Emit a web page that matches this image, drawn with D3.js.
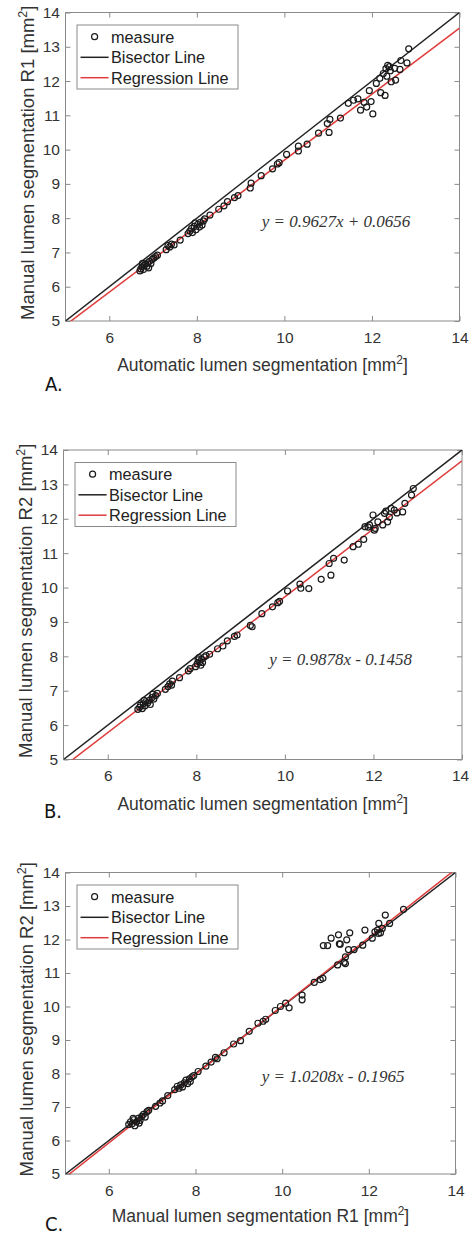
<!DOCTYPE html>
<html>
<head>
  <meta charset="utf-8">
  <title>Lumen segmentation agreement</title>
  <style>
    body { margin: 0; background: #fff; }
    svg { display: block; }
    .tick text { font-family: "Liberation Sans", Arial, sans-serif; font-size: 15.5px; fill: #333; }
    .tick line { stroke: #8a8a8a; }
    .axis-label { font-family: "Liberation Sans", Arial, sans-serif; fill: #333; }
    .legend text { font-family: "Liberation Sans", Arial, sans-serif; font-size: 16.3px; fill: #222; }
    .eq { font-family: "Liberation Serif", "Times New Roman", serif; font-style: italic; font-size: 17px; fill: #333; }
    .tag { font-family: "Liberation Sans Narrow", "DejaVu Sans Condensed", sans-serif; font-size: 20px; fill: #111; }
  </style>
  <script src="https://d3js.org/d3.v7.min.js"></script>
</head>
<body>
<div id="chart"></div>
<script>
  const xTicks = [6, 8, 10, 12, 14];
  const yTicks = [5, 6, 7, 8, 9, 10, 11, 12, 13, 14];
  const legendLabels = ['measure', 'Bisector Line', 'Regression Line'];

  // A: automatic vs manual R1, [x, y] in mm2
  const pointsA = [
    [6.70, 6.46], [6.72, 6.52], [6.75, 6.58], [6.78, 6.50], [6.80, 6.62], [6.83, 6.66],
    [6.86, 6.60], [6.88, 6.70], [6.92, 6.74], [6.95, 6.68], [6.98, 6.80], [7.02, 6.84],
    [7.06, 6.88], [7.10, 6.92], [6.76, 6.68], [6.90, 6.55],
    [7.30, 7.08], [7.34, 7.20], [7.38, 7.16], [7.42, 7.24], [7.48, 7.22], [7.62, 7.36],
    [7.80, 7.55], [7.84, 7.62], [7.88, 7.70], [7.90, 7.58], [7.94, 7.76], [7.98, 7.66],
    [8.02, 7.82], [8.06, 7.74], [8.08, 7.88], [8.12, 7.80], [8.15, 7.92], [8.18, 7.98],
    [7.96, 7.86], [8.30, 8.09], [8.50, 8.26], [8.62, 8.36], [8.70, 8.48], [8.86, 8.60],
    [8.94, 8.66], [9.22, 8.88], [9.24, 9.02], [9.47, 9.24], [9.73, 9.44], [9.84, 9.58],
    [9.88, 9.62], [10.05, 9.86], [10.32, 9.96], [10.32, 10.10], [10.52, 10.16], [10.78, 10.48],
    [10.98, 10.76], [11.02, 10.50], [11.04, 10.88], [11.28, 10.92],
    [11.46, 11.35], [11.58, 11.44], [11.68, 11.48], [11.74, 11.15], [11.82, 11.38], [11.88, 11.24],
    [11.94, 11.72], [11.98, 11.40], [12.02, 11.04], [12.10, 11.93], [12.18, 12.08], [12.20, 11.66],
    [12.26, 12.22], [12.30, 11.58], [12.32, 12.36], [12.36, 12.46], [12.34, 12.14], [12.40, 12.42],
    [12.44, 11.98], [12.42, 12.30], [12.52, 12.37], [12.54, 12.03], [12.64, 12.34], [12.66, 12.60],
    [12.80, 12.53], [12.84, 12.94]
  ];
  const fitA = [0.9627, 0.0656];
  const eqA = 'y = 0.9627x + 0.0656';

  // B: automatic vs manual R2
  const pointsB = [
    [6.68, 6.46], [6.72, 6.52], [6.74, 6.58], [6.78, 6.48], [6.80, 6.62], [6.84, 6.56],
    [6.86, 6.68], [6.90, 6.64], [6.94, 6.72], [6.96, 6.60], [7.00, 6.80], [7.04, 6.76],
    [7.08, 6.86], [7.12, 6.92], [6.82, 6.72], [7.02, 6.90],
    [7.30, 7.04], [7.36, 7.12], [7.40, 7.20], [7.44, 7.16], [7.46, 7.28], [7.62, 7.38],
    [7.82, 7.58], [7.86, 7.64], [7.98, 7.70], [8.02, 7.78], [8.04, 7.90], [8.06, 7.96],
    [8.08, 7.84], [8.10, 7.74], [8.12, 7.92], [8.14, 7.82], [8.18, 7.98], [8.22, 8.02],
    [8.30, 8.06], [8.48, 8.22], [8.60, 8.30], [8.70, 8.45], [8.86, 8.58], [8.92, 8.62],
    [9.22, 8.90], [9.26, 8.86], [9.48, 9.24], [9.72, 9.44], [9.84, 9.56], [9.88, 9.60],
    [10.06, 9.90], [10.34, 10.10], [10.36, 9.98], [10.54, 9.97], [10.82, 10.24], [11.00, 10.70],
    [11.04, 10.36], [11.10, 10.85], [11.34, 10.80],
    [11.54, 11.19], [11.66, 11.26], [11.78, 11.40], [11.81, 11.77], [11.91, 11.82], [11.99, 12.11],
    [12.02, 11.67], [12.10, 11.91], [12.21, 11.82], [12.25, 12.16], [12.32, 11.91], [12.36, 12.05],
    [12.40, 12.30], [12.47, 12.25], [12.53, 12.17], [12.66, 12.20], [12.71, 12.45], [12.86, 12.69],
    [12.90, 12.88], [11.88, 11.76], [12.04, 11.72], [12.28, 12.22]
  ];
  const fitB = [0.9878, -0.1458];
  const eqB = 'y = 0.9878x - 0.1458';

  // C: manual R1 vs manual R2
  const pointsC = [
    [6.46, 6.48], [6.50, 6.56], [6.54, 6.50], [6.58, 6.62], [6.60, 6.44], [6.64, 6.56],
    [6.68, 6.66], [6.72, 6.60], [6.76, 6.72], [6.80, 6.78], [6.84, 6.70], [6.88, 6.86],
    [6.92, 6.90], [6.56, 6.66], [6.70, 6.52],
    [7.08, 7.02], [7.18, 7.12], [7.24, 7.18], [7.36, 7.34], [7.52, 7.52], [7.58, 7.62],
    [7.62, 7.56], [7.66, 7.66], [7.70, 7.60], [7.74, 7.72], [7.78, 7.80], [7.82, 7.70],
    [7.86, 7.84], [7.88, 7.76], [7.92, 7.90], [7.96, 7.94], [8.06, 8.06], [8.24, 8.22],
    [8.36, 8.34], [8.46, 8.48], [8.50, 8.44], [8.66, 8.62], [8.88, 8.88], [9.04, 8.98],
    [9.24, 9.26], [9.44, 9.50], [9.56, 9.56], [9.62, 9.62], [9.84, 9.88], [9.96, 10.00],
    [10.08, 10.10], [10.16, 9.96], [10.46, 10.20], [10.46, 10.34], [10.74, 10.72], [10.88, 10.80],
    [10.94, 10.84],
    [10.95, 11.82], [11.05, 11.82], [11.13, 12.04], [11.30, 12.14], [11.32, 11.87], [11.34, 11.86],
    [11.28, 11.24], [11.43, 11.32], [11.46, 11.48], [11.49, 11.99], [11.56, 12.20], [11.53, 11.70],
    [11.66, 11.70], [11.86, 11.83], [11.91, 12.28], [12.08, 12.04], [12.14, 12.23], [12.20, 12.28],
    [12.23, 12.48], [12.27, 12.20], [12.31, 12.33], [12.38, 12.73], [12.48, 12.48], [12.80, 12.90],
    [11.46, 11.28], [12.22, 12.18]
  ];
  const fitC = [1.0208, -0.1965];
  const eqC = 'y = 1.0208x - 0.1965';

  const panels = [
    { tag: 'A.', box: [65.5, 12.5, 459.5, 321], points: pointsA, fit: fitA, eq: eqA, eqAt: [261.7, 226.5],
      xLabel: 'Automatic lumen segmentation ', yLabel: 'Manual lumen segmentation R1 ',
      xLabelY: 371, yLabelX: 34, tagAt: [45, 391] },
    { tag: 'B.', box: [63.5, 450, 462, 759.5], points: pointsB, fit: fitB, eq: eqB, eqAt: [269.3, 665],
      xLabel: 'Automatic lumen segmentation ', yLabel: 'Manual lumen segmentation R2 ',
      xLabelY: 810, yLabelX: 32, tagAt: [44, 818] },
    { tag: 'C.', box: [65.5, 872.5, 455.5, 1174], points: pointsC, fit: fitC, eq: eqC, eqAt: [261.7, 1081.5],
      xLabel: 'Manual lumen segmentation R1 ', yLabel: 'Manual lumen segmentation R2 ',
      xLabelY: 1221.5, yLabelX: 33, tagAt: [45, 1231] }
  ];

  const svg = d3.select('#chart').append('svg')
    .attr('width', 469)
    .attr('height', 1239);

  // text with a superscript 2 in the unit
  function unitText(sel, text) {
    sel.append('tspan').text(text + '[mm');
    sel.append('tspan').attr('dy', -7).attr('font-size', '0.68em').text('2');
    sel.append('tspan').attr('dy', 7).text(']');
  }

  panels.forEach((p, i) => {
    const [left, top, right, bottom] = p.box;
    const x = d3.scaleLinear().domain([5, 14]).range([left, right]);
    const y = d3.scaleLinear().domain([5, 14]).range([bottom, top]);
    const g = svg.append('g');

    g.append('clipPath').attr('id', 'clip' + i)
      .append('rect')
        .attr('x', left).attr('y', top)
        .attr('width', right - left).attr('height', bottom - top);

    g.append('rect')
      .attr('x', left).attr('y', top)
      .attr('width', right - left).attr('height', bottom - top)
      .attr('fill', '#fff')
      .attr('stroke', '#8a8a8a')
      .attr('stroke-width', 1);

    // ticks point inwards on all four sides
    const xAxis = g.append('g')
      .attr('transform', `translate(0,${bottom})`)
      .call(d3.axisBottom(x).tickValues(xTicks).tickSize(-5).tickPadding(10.5))
      .call(a => a.select('.domain').remove());
    // keep the last label inside the page
    xAxis.selectAll('.tick text')
      .attr('dx', d => (d === 14 && x(d) + 9 > 469) ? 469 - 9 - x(d) : 0);
    g.append('g')
      .attr('transform', `translate(0,${top})`)
      .call(d3.axisTop(x).tickValues(xTicks).tickSize(-5).tickFormat(''))
      .call(a => a.select('.domain').remove());
    g.append('g')
      .attr('transform', `translate(${left},0)`)
      .call(d3.axisLeft(y).tickValues(yTicks).tickSize(-5).tickPadding(5.5))
      .call(a => a.select('.domain').remove());
    g.append('g')
      .attr('transform', `translate(${right},0)`)
      .call(d3.axisRight(y).tickValues(yTicks).tickSize(-5).tickFormat(''))
      .call(a => a.select('.domain').remove());
    g.selectAll('.tick text').attr('font-size', null).attr('font-family', null);

    const line = d3.line().x(d => x(d[0])).y(d => y(d[1]));
    const ends = [5, 14];
    const plot = g.append('g').attr('clip-path', `url(#clip${i})`);

    plot.append('path')
      .attr('d', line(ends.map(v => [v, v])))
      .attr('fill', 'none').attr('stroke', '#222').attr('stroke-width', 1.5);
    plot.append('path')
      .attr('d', line(ends.map(v => [v, p.fit[0] * v + p.fit[1]])))
      .attr('fill', 'none').attr('stroke', '#e03c3c').attr('stroke-width', 1.5);

    plot.selectAll('circle')
      .data(p.points)
      .join('circle')
        .attr('cx', d => x(d[0]))
        .attr('cy', d => y(d[1]))
        .attr('r', 3)
        .attr('fill', 'none')
        .attr('stroke', '#1a1a1a')
        .attr('stroke-width', 1.2);

    g.append('text').attr('class', 'eq')
      .attr('x', p.eqAt[0]).attr('y', p.eqAt[1])
      .text(p.eq);

    // legend
    const lg = g.append('g').attr('class', 'legend')
      .attr('transform', `translate(${left + 11.5},${top + 12.5})`);
    lg.append('rect')
      .attr('width', 161).attr('height', 64)
      .attr('fill', '#fff').attr('stroke', '#8a8a8a');
    const rowY = [11.7, 32.3, 52.7];
    lg.append('circle')
      .attr('cx', 17.6).attr('cy', rowY[0]).attr('r', 3)
      .attr('fill', 'none').attr('stroke', '#1a1a1a').attr('stroke-width', 1.2);
    lg.append('line')
      .attr('x1', 3.5).attr('x2', 31.6).attr('y1', rowY[1]).attr('y2', rowY[1])
      .attr('stroke', '#222').attr('stroke-width', 1.5);
    lg.append('line')
      .attr('x1', 3.5).attr('x2', 31.6).attr('y1', rowY[2]).attr('y2', rowY[2])
      .attr('stroke', '#e03c3c').attr('stroke-width', 1.5);
    lg.selectAll('text')
      .data(legendLabels)
      .join('text')
        .attr('x', 34)
        .attr('y', (d, k) => rowY[k])
        .attr('dy', '0.36em')
        .text(d => d);

    // axis labels
    g.append('text').attr('class', 'axis-label')
      .attr('x', (left + right) / 2).attr('y', p.xLabelY)
      .attr('text-anchor', 'middle')
      .attr('font-size', 17.5)
      .call(unitText, p.xLabel);
    g.append('text').attr('class', 'axis-label')
      .attr('transform', `translate(${p.yLabelX},${(top + bottom) / 2 - 4}) rotate(-90)`)
      .attr('text-anchor', 'middle')
      .attr('font-size', 18.5)
      .call(unitText, p.yLabel);

    g.append('text').attr('class', 'tag')
      .attr('x', p.tagAt[0]).attr('y', p.tagAt[1])
      .text(p.tag);
  });
</script>
</body>
</html>
